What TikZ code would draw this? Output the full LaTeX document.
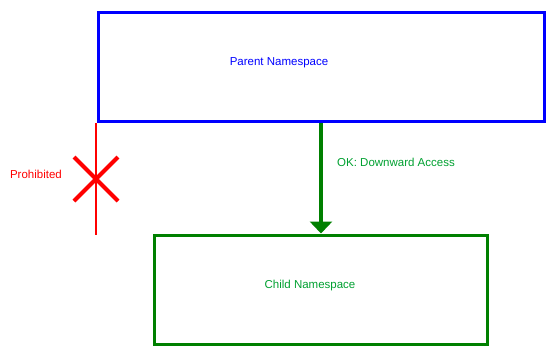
\documentclass[tikz,border=0pt]{standalone}
\usepackage{fontspec}
\setmainfont{Liberation Sans}
\usetikzlibrary{arrows.meta, positioning}
\definecolor{myblue}{HTML}{0000FF}
\definecolor{mygreen}{HTML}{008000}
\definecolor{mytextgreen}{HTML}{00A030}
\definecolor{myred}{HTML}{FF0000}
\tikzset{
	nsbox/.style={
			draw,
			line width=3pt,
			inner sep=0pt
		},
	nstext/.style={
			font=\fontsize{11.5}{13}\selectfont,
			inner sep=0pt
		}
}

\begin{document}
\begin{tikzpicture}[x=1pt, y=-1pt]
\useasboundingbox (0,0) rectangle (550,356);
\node[nsbox, draw=myblue, minimum width=446pt, minimum height=109pt] (parent) at (321,66.5) {};
\node[nsbox, draw=mygreen, minimum width=333pt, minimum height=109pt] (child) at (320.5,289.5) {};
\node[nstext, text=myblue] (ptext) at (279,63) {Parent Namespace};
\node[nstext, text=mytextgreen] (ctext) at (310,286) {Child Namespace};

% allowed access
\draw[mygreen, line width=4pt, -{Triangle[width=22pt, length=12pt]}] (parent.south) -- (parent.south |- child.north);
\node[nstext, text=mytextgreen, anchor=west] (oklabel) at (337,162.5) {OK: Downward Access};

% forbidden access
\coordinate (up) at (96,123);
\coordinate (down) at (96,235);
\coordinate (cross) at (96,179);
\draw[myred, line width=2pt] (up) -- (down);
\draw[myred, line width=4pt] ([shift={(-22,-22)}]cross) -- ([shift={(22,22)}]cross);
\draw[myred, line width=4pt] ([shift={(22,-22)}]cross) -- ([shift={(-22,22)}]cross);
\node[nstext, text=myred, anchor=east] (nolabel) at (62,174.5) {Prohibited};
\end{tikzpicture}
\end{document}
